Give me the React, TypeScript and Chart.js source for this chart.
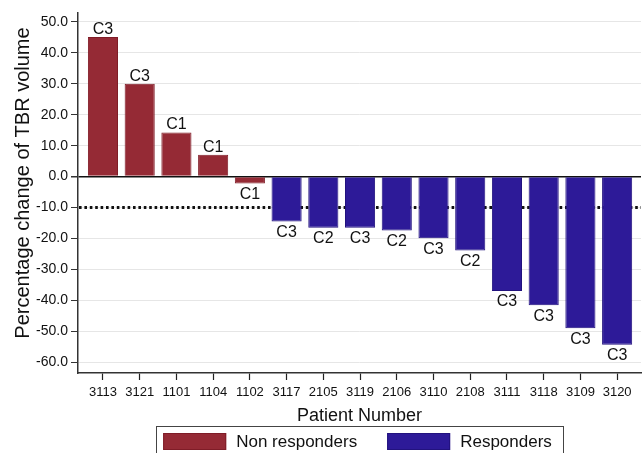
import React, { useEffect, useRef } from "react";
import { Chart, registerables } from "chart.js";

Chart.register(...registerables);

const patients = ["3113", "3121", "1101", "1104", "1102", "3117", "2105", "3119", "2106", "3110", "2108", "3111", "3118", "3109", "3120"];
const nonResponderValues = [45.1, 30.0, 14.3, 7.1, -2.2];
const responderValues = [-14.5, -16.5, -16.5, -17.4, -19.9, -23.9, -37.0, -41.6, -49.0, -54.4];
const cohortLabels = ["C3", "C3", "C1", "C1", "C1", "C3", "C2", "C3", "C2", "C3", "C2", "C3", "C3", "C3", "C3"];
const yTicks = [50, 40, 30, 20, 10, 0, -10, -20, -30, -40, -50, -60];
const thresholdValue = -10;
const seriesNames = ["Non responders", "Responders"];
const yTitle = "Percentage change of TBR volume";
const xTitle = "Patient Number";

const FONT = "'Liberation Sans', Arial, Helvetica, sans-serif";
const RED = "#952a35";
const RED_BORDER = "#7f1c27";
const BLUE = "#2d1a98";
const BLUE_BORDER = "#22127e";

const thresholdPlugin = {
  id: "threshold",
  beforeDatasetsDraw(chart: any) {
    const { ctx, chartArea, scales } = chart;
    const y = scales.y.getPixelForValue(thresholdValue);
    ctx.save();
    ctx.strokeStyle = "#111";
    ctx.lineWidth = 3;
    ctx.setLineDash([2.6, 2.8]);
    ctx.beginPath();
    ctx.moveTo(chartArea.left + 1, y);
    ctx.lineTo(chartArea.right, y);
    ctx.stroke();
    ctx.restore();
  },
};

const barLabelPlugin = {
  id: "barLabels",
  afterDatasetsDraw(chart: any) {
    const { ctx } = chart;
    ctx.save();
    ctx.font = `16px ${FONT}`;
    ctx.fillStyle = "#111";
    ctx.textAlign = "center";
    chart.data.datasets.forEach((ds: any, di: number) => {
      const meta = chart.getDatasetMeta(di);
      meta.data.forEach((el: any, j: number) => {
        const pt = ds.data[j];
        const label = cohortLabels[pt.x];
        if (pt.y >= 0) {
          ctx.textBaseline = "alphabetic";
          ctx.fillText(label, el.x, el.y - 3);
        } else {
          ctx.textBaseline = "top";
          ctx.fillText(label, el.x, el.y + 3);
        }
      });
    });
    ctx.restore();
  },
};

const yTitlePlugin = {
  id: "yTitle",
  afterDraw(chart: any) {
    const { ctx } = chart;
    ctx.save();
    ctx.font = `20px ${FONT}`;
    ctx.fillStyle = "#111";
    ctx.textAlign = "center";
    ctx.textBaseline = "middle";
    ctx.translate(23, 183);
    ctx.rotate(-Math.PI / 2);
    ctx.fillText(yTitle, 0, 0);
    ctx.restore();
  },
};

const boxLegendPlugin = {
  id: "boxLegend",
  afterDraw(chart: any) {
    const { ctx, chartArea } = chart;
    ctx.save();
    ctx.font = `17px ${FONT}`;
    const sw = 63;
    const sh = 17;
    const items = chart.data.datasets.map((ds: any) => ({
      text: ds.label,
      fill: ds.backgroundColor,
      border: ds.borderColor,
      w: ctx.measureText(ds.label).width,
    }));
    const padL = 7;
    const padR = 11;
    const gapText = 10;
    const gapItem = 30;
    let total = padL + padR;
    items.forEach((it: any, i: number) => {
      total += sw + gapText + it.w + (i > 0 ? gapItem : 0);
    });
    const cx = (chartArea.left + chartArea.right) / 2;
    const left = cx - total / 2;
    const top = 426.5;
    ctx.strokeStyle = "#444";
    ctx.lineWidth = 1;
    ctx.strokeRect(Math.round(left) + 0.5, top, Math.round(total), 40);
    let x = left + padL;
    const cy = 441.5;
    items.forEach((it: any, i: number) => {
      if (i > 0) x += gapItem;
      ctx.fillStyle = it.fill;
      ctx.fillRect(x, cy - sh / 2, sw, sh);
      ctx.strokeStyle = it.border;
      ctx.strokeRect(x + 0.5, cy - sh / 2 + 0.5, sw - 1, sh - 1);
      x += sw + gapText;
      ctx.fillStyle = "#111";
      ctx.textAlign = "left";
      ctx.textBaseline = "middle";
      ctx.fillText(it.text, x, cy + 1);
      x += it.w;
    });
    ctx.restore();
  },
};

export default function App() {
  const ref = useRef<HTMLCanvasElement | null>(null);

  useEffect(() => {
    if (!ref.current) return;
    const chart = new Chart(ref.current, {
      type: "bar",
      data: {
        datasets: [
          {
            label: seriesNames[0],
            data: nonResponderValues.map((y, i) => ({ x: i, y })),
            backgroundColor: RED,
            borderColor: RED_BORDER,
            borderWidth: 1,
            grouped: false,
            barPercentage: 0.82,
            categoryPercentage: 1,
          } as any,
          {
            label: seriesNames[1],
            data: responderValues.map((y, i) => ({ x: i + nonResponderValues.length, y })),
            backgroundColor: BLUE,
            borderColor: BLUE_BORDER,
            borderWidth: 1,
            grouped: false,
            barPercentage: 0.82,
            categoryPercentage: 1,
          } as any,
        ],
      },
      options: {
        animation: false,
        responsive: true,
        maintainAspectRatio: false,
        layout: { padding: { top: 13, right: 2, bottom: 22.8, left: 0 } },
        plugins: {
          legend: { display: false },
          tooltip: { enabled: false },
        },
        scales: {
          x: {
            type: "linear",
            offset: false,
            min: -0.68,
            max: 14.65,
            afterBuildTicks: (scale: any) => {
              scale.ticks = patients.map((_, i) => ({ value: i }));
            },
            ticks: {
              autoSkip: false,
              maxRotation: 0,
              padding: 5,
              color: "#111",
              font: { family: FONT, size: 13 },
              callback: (v: any) => patients[v] ?? "",
            },
            grid: {
              offset: false,
              drawOnChartArea: false,
              drawTicks: true,
              tickLength: 7,
              tickColor: "#222",
              tickWidth: 1.2,
            },
            border: { display: true, color: "#333", width: 1.5 },
            title: {
              display: true,
              text: xTitle,
              color: "#111",
              font: { family: FONT, size: 18 },
              padding: { top: 0, bottom: 3 },
            },
          } as any,
          y: {
            type: "linear",
            min: -63.5,
            max: 52.9,
            afterBuildTicks: (scale: any) => {
              scale.ticks = yTicks.map((v) => ({ value: v }));
            },
            afterFit: (scale: any) => {
              scale.width = 78;
            },
            ticks: {
              padding: 3,
              color: "#111",
              font: { family: FONT, size: 14 },
              callback: (v: any) => Number(v).toFixed(1),
            },
            grid: {
              drawTicks: true,
              tickLength: 7,
              tickColor: "#333",
              color: (c: any) => (c.tick && c.tick.value === 0 ? "#111" : "#e6e6e6"),
              lineWidth: (c: any) => (c.tick && c.tick.value === 0 ? 1.5 : 1),
            },
            border: { display: true, color: "#333", width: 1.5 },
            title: { display: false },
          } as any,
        },
      } as any,
      plugins: [thresholdPlugin, barLabelPlugin, yTitlePlugin, boxLegendPlugin],
    });
    return () => chart.destroy();
  }, []);

  return (
    <div style={{ position: "fixed", left: 0, top: 0, width: 643, height: 453, background: "#fff" }}>
      <canvas ref={ref} />
    </div>
  );
}
